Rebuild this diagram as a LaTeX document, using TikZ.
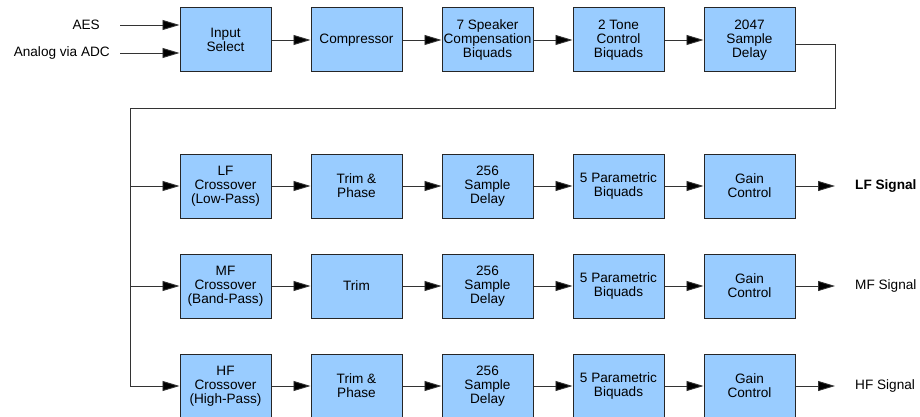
\documentclass[tikz,border=0pt]{standalone}
\usepackage{fontspec}
\setmainfont{Liberation Sans}
\usepackage{tikz}
\usetikzlibrary{arrows.meta}

\tikzset{
    block/.style={draw=black!85, line width=1pt, fill=blockblue, minimum width=91pt,
        minimum height=64pt, inner sep=0pt, align=center,
        font=\fontsize{13.6}{14}\selectfont},
    pfeil/.style={draw=black!80, line width=0.9pt, -{Triangle[length=17pt,width=10pt,fill=black]}},
    leitung/.style={draw=black!80, line width=0.9pt},
    beschriftung/.style={font=\fontsize{13.6}{14}\selectfont, inner sep=0pt}
}
\definecolor{blockblue}{HTML}{99CCFF}

\begin{document}
\begin{tikzpicture}[x=1pt,y=-1pt]
    % Bildausschnitt
    \useasboundingbox (0,0) rectangle (920,417);
    \clip (0,0) rectangle (920,417);

    % Eingangsstufe
    \node[block] (insel) at (225.5,40) {Input\\Select};
    \node[block] (comp) at (356.5,40) {Compressor};
    \node[block] (spk) at (487.5,40) {7 Speaker\\Compensation\\Biquads};
    \node[block] (tone) at (618.5,40) {2 Tone\\Control\\Biquads};
    \node[block] (dly) at (749.5,40) {2047\\Sample\\Delay};

    % Eingaenge
    \node[beschriftung, anchor=east] (aes) at (100,25) {AES};
    \node[beschriftung, anchor=east] (adc) at (110,53) {Analog via ADC};
    \coordinate (aesin) at (120,25);
    \coordinate (adcin) at (120,53);
    \draw[pfeil] (aesin) -- (aesin -| insel.west);
    \draw[pfeil] (adcin) -- (adcin -| insel.west);

    % Kette oben
    \draw[pfeil] (insel) -- (comp);
    \draw[pfeil] (comp) -- (spk);
    \draw[pfeil] (spk) -- (tone);
    \draw[pfeil] (tone) -- (dly);

    % Rueckfuehrung zum Verteiler
    \coordinate (r1) at (835,44);
    \coordinate (r2) at (835,108);
    \coordinate (r3) at (130,108);
    \coordinate (r4) at (130,386);
    \draw[leitung] (dly.east |- r1) -- (r1) -- (r2) -- (r3) -- (r4);

    % Drei Zweige
    \foreach \z/\y/\xo/\tr/\sig in {l/186/{LF\\Crossover\\(Low-Pass)}/{Trim \&\\Phase}/{\textbf{LF Signal}},
                                    m/286/{MF\\Crossover\\(Band-Pass)}/{Trim}/{MF Signal},
                                    h/386/{HF\\Crossover\\(High-Pass)}/{Trim \&\\Phase}/{HF Signal}} {
        \node[block] (\z xo) at (225.5,\y) {\xo};
        \node[block] (\z trim) at (356.5,\y) {\tr};
        \node[block] (\z dly) at (487.5,\y) {256\\Sample\\Delay};
        \node[block] (\z peq) at (618.5,\y) {5 Parametric\\Biquads};
        \node[block] (\z gain) at (749.5,\y) {Gain\\Control};
        \coordinate (\z aus) at (835,\y);
        \node[beschriftung, anchor=west] (\z sig) at (855,\y) {\sig};

        \draw[pfeil] (r3 |- \z xo.west) -- (\z xo.west);
        \draw[pfeil] (\z xo) -- (\z trim);
        \draw[pfeil] (\z trim) -- (\z dly);
        \draw[pfeil] (\z dly) -- (\z peq);
        \draw[pfeil] (\z peq) -- (\z gain);
        \draw[pfeil] (\z gain) -- (\z aus);
    }
\end{tikzpicture}
\end{document}
